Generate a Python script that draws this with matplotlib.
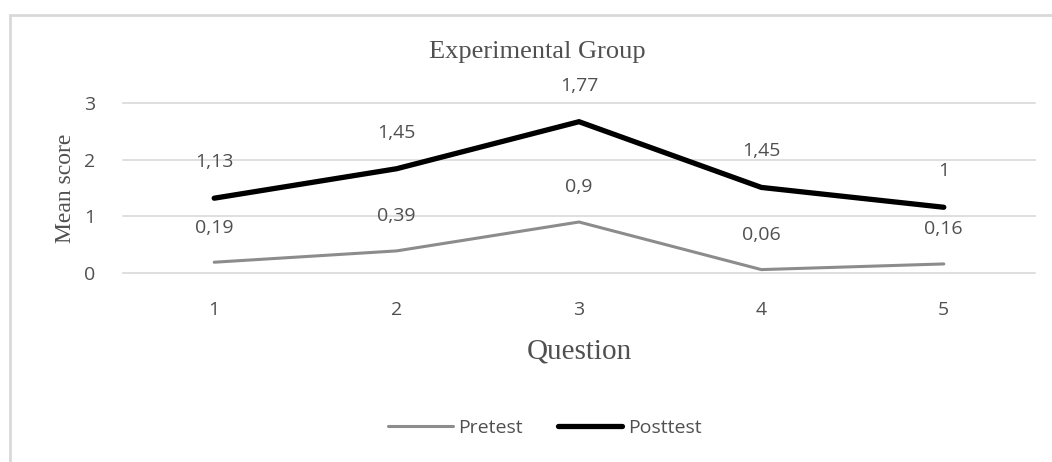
import matplotlib.pyplot as plt
from matplotlib.patches import Rectangle
import numpy as np

questions = ['1', '2', '3', '4', '5']
pretest = [0.19, 0.39, 0.9, 0.06, 0.16]
posttest = [1.13, 1.45, 1.77, 1.45, 1.0]
yticks = [0, 1, 2, 3]

# excel stacked line chart: posttest sits on top of pretest
pre_line = np.array(pretest)
post_line = pre_line + np.array(posttest)

sans = 'Open Sans'
serif = 'Liberation Serif'
grey = '#505050'

fig = plt.figure(figsize=(10.52, 4.62), dpi=100)
ax = fig.add_axes([123 / 1052, 1 - 273 / 462, 912 / 1052, 170 / 462])

x = np.arange(1, len(questions) + 1)
ax.plot(x, pre_line, color='#8c8c8c', lw=2.2, solid_capstyle='round', label='Pretest', zorder=3)
ax.plot(x, post_line, color='black', lw=3.8, solid_capstyle='round', solid_joinstyle='miter', label='Posttest', zorder=3)

lblfont = dict(family=sans, size=14, color=grey)
for xi, yi, v in zip(x, pre_line, pretest):
    ax.annotate(f'{v:g}'.replace('.', ','), (xi, yi), xytext=(0, 25), textcoords='offset points',
                ha='center', va='center', **lblfont)
for xi, yi, v in zip(x, post_line, posttest):
    ax.annotate(f'{v:g}'.replace('.', ','), (xi, yi), xytext=(0, 26), textcoords='offset points',
                ha='center', va='center', **lblfont)

ax.set_xlim(0.5, len(questions) + 0.5)
ax.set_ylim(0, 3)
ax.set_yticks(yticks)
ax.set_xticks(x)
ax.set_xticklabels(questions)
ax.grid(axis='y', color='#d9d9d9', lw=1.2)
for gl in ax.get_ygridlines():
    gl.set_clip_on(False)
ax.set_axisbelow(True)
for s in ax.spines.values():
    s.set_visible(False)
ax.tick_params(length=0, labelsize=14, labelcolor=grey)
for t in ax.get_xticklabels() + ax.get_yticklabels():
    t.set_family(sans)
ax.tick_params(axis='y', pad=20)
ax.tick_params(axis='x', pad=20)

ax.set_ylabel('Mean score', family=serif, fontsize=17, color=grey, labelpad=6)
ax.set_xlabel('Question', family=serif, fontsize=21, color=grey, labelpad=14)
fig.text(537 / 1052, 1 - 52 / 462, 'Experimental Group', family=serif, fontsize=19,
         color=grey, ha='center', va='center')

fig.legend(loc='center', bbox_to_anchor=(545 / 1052, 1 - 428 / 462), ncol=2, frameon=False,
           prop={'family': sans, 'size': 14}, labelcolor=grey, handlelength=3.3,
           columnspacing=1.8, handletextpad=0.3)

fig.patches.append(Rectangle((10 / 1052, -0.1), 1.2, 1.1 - 15 / 462, transform=fig.transFigure,
                             fill=False, edgecolor='#d9d9d9', lw=2))

fig.savefig('out.png', dpi=100)
